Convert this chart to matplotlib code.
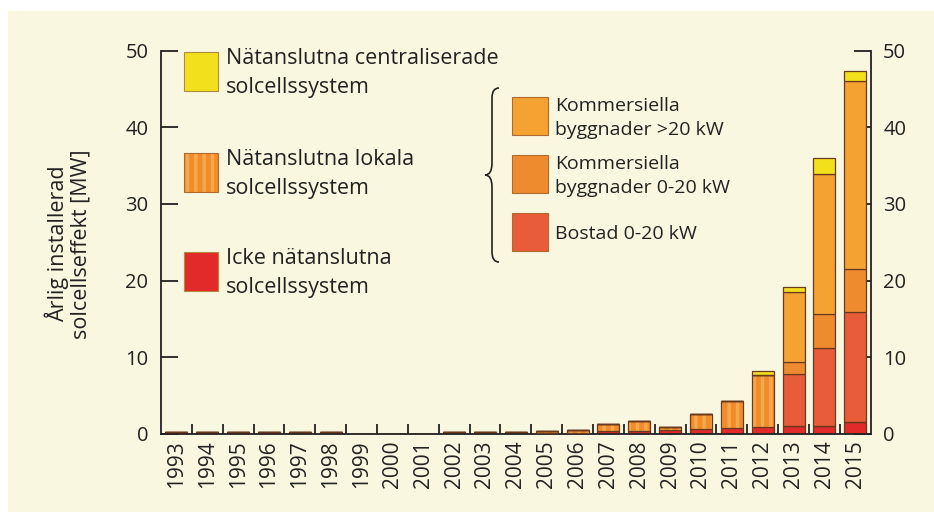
import numpy as np
import matplotlib
matplotlib.use("Agg")
import matplotlib.pyplot as plt
from matplotlib.patches import Rectangle, PathPatch
from matplotlib.path import Path

plt.rcParams['font.family'] = ['Open Sans', 'DejaVu Sans']
plt.rcParams['hatch.linewidth'] = 2.5

years = list(range(1993, 2016))

# annual installed PV power [MW], stacked bottom to top
icke = [0.25, 0.25, 0.25, 0.25, 0.25, 0.25, 0.02, 0.02, 0.02, 0.2, 0.2, 0.2,
        0.15, 0.1, 0.3, 0.3, 0.5, 0.6, 0.75, 0.9, 1.0, 1.0, 1.5]
lokala = [0, 0, 0, 0, 0, 0, 0, 0, 0, 0, 0, 0,
          0.25, 0.4, 1.0, 1.4, 0.4, 2.0, 3.55, 6.7, 0, 0, 0]
bostad = [0] * 20 + [6.8, 10.2, 14.4]
komm_small = [0] * 20 + [1.6, 4.4, 5.6]
komm_large = [0] * 20 + [9.1, 18.3, 24.5]
central = [0] * 19 + [0.6, 0.6, 2.1, 1.3]

cream = '#faf7e1'
edge = '#6b3a1e'
ink = '#222222'
c_yellow = '#f3e01d'
c_red = '#e32a2a'
c_lokala = '#f08c2a'
c_stripe = '#f6a84c'
c_bostad = '#e85c3a'
c_ksmall = '#ef8b2f'
c_klarge = '#f4a231'

W, H = 934, 512
fig = plt.figure(figsize=(W / 100, H / 100), dpi=100, facecolor='white')


def fx(x):
    return x / W


def fy(y):
    return 1 - y / H


fig.patches.append(Rectangle((fx(8), 0), 1, fy(11), transform=fig.transFigure,
                             facecolor=cream, edgecolor='none', zorder=-5))

ax = fig.add_axes([fx(161), fy(433.7), fx(870.7 - 161), (433.7 - 50.7) / H])
ax.set_facecolor('none')
ax.set_zorder(2)

x = np.arange(len(years))
bw = 0.71
bottom = np.zeros(len(years))
for vals, col in [(icke, c_red), (lokala, None), (bostad, c_bostad),
                  (komm_small, c_ksmall), (komm_large, c_klarge), (central, c_yellow)]:
    v = np.array(vals, dtype=float)
    if col is None:
        # striped local grid-connected systems
        ax.bar(x, v, bw, bottom=bottom, color=c_lokala, edgecolor=c_stripe,
               hatch='||', linewidth=0, zorder=2)
        ax.bar(x, v, bw, bottom=bottom, fill=False, edgecolor=edge,
               linewidth=0.9, zorder=3)
    else:
        ax.bar(x, v, bw, bottom=bottom, color=col, edgecolor=edge,
               linewidth=0.9, zorder=2)
    bottom += v

ax.set_xlim(-0.5, len(years) - 0.5)
ax.set_ylim(0, 50)
ax.spines['top'].set_visible(False)
for s in ['left', 'right', 'bottom']:
    ax.spines[s].set_linewidth(1.3)
    ax.spines[s].set_color(ink)

ax.set_yticks([0, 10, 20, 30, 40, 50])
ax.tick_params(axis='y', direction='in', length=12, width=1.3, pad=9,
               left=True, right=True, labelleft=True, labelright=True,
               labelsize=14.5, colors=ink)
ax.set_xticks(x)
ax.set_xticklabels([str(y) for y in years], rotation=90, fontsize=15,
                   color=ink)
ax.tick_params(axis='x', which='major', length=0, pad=5)
ax.set_xticks(np.arange(0.5, len(years) - 1, 1), minor=True)
ax.tick_params(axis='x', which='minor', direction='in', length=7, width=1.3,
               color=ink)

fig.text(fx(68), fy(244), 'Årlig installerad\nsolcellseffekt [MW]', rotation=90,
         ha='center', va='center', fontsize=15.5, color=ink,
         linespacing=1.1)

# legend, left column
left_items = [(c_yellow, 52, 'Nätanslutna centraliserade\nsolcellssystem', False),
              (c_lokala, 153, 'Nätanslutna lokala\nsolcellssystem', True),
              (c_red, 252, 'Icke nätanslutna\nsolcellssystem', False)]
for col, top, label, striped in left_items:
    r = Rectangle((fx(184), fy(top + 39)), fx(34), 39 / H, transform=fig.transFigure,
                  facecolor=col, edgecolor=c_stripe if striped else '#b08a40',
                  hatch='||' if striped else None, linewidth=0 if striped else 0.8)
    fig.patches.append(r)
    if striped:
        fig.patches.append(Rectangle((fx(184), fy(top + 39)), fx(34), 39 / H,
                                     transform=fig.transFigure, fill=False,
                                     edgecolor='#b06a30', linewidth=0.8))
    fig.text(fx(226), fy(top + 21), label, ha='left', va='center', fontsize=15.5,
             color=ink, linespacing=1.55)

# legend, right column (breakdown of local systems)
right_items = [(c_klarge, 97, 'Kommersiella\nbyggnader >20 kW'),
               (c_ksmall, 155, 'Kommersiella\nbyggnader 0-20 kW'),
               (c_bostad, 213, 'Bostad 0-20 kW')]
for col, top, label in right_items:
    fig.patches.append(Rectangle((fx(512), fy(top + 38)), fx(36), 38 / H,
                                 transform=fig.transFigure, facecolor=col,
                                 edgecolor='#b06a30', linewidth=0.8))
    fig.text(fx(555), fy(top + 21), label, ha='left', va='center', fontsize=14,
             color=ink, linespacing=1.45)

# curly brace
bx, top_y, mid_y, bot_y = 499, 88, 175, 262
verts = [(bx, top_y), (bx - 7, top_y), (bx - 7, top_y + 10),
         (bx - 7, mid_y - 12),
         (bx - 7, mid_y), (bx - 14, mid_y),
         (bx - 7, mid_y), (bx - 7, mid_y + 12),
         (bx - 7, bot_y - 10),
         (bx - 7, bot_y), (bx, bot_y)]
codes = [Path.MOVETO, Path.CURVE3, Path.CURVE3, Path.LINETO,
         Path.CURVE3, Path.CURVE3, Path.CURVE3, Path.CURVE3,
         Path.LINETO, Path.CURVE3, Path.CURVE3]
verts = [(fx(a), fy(b)) for a, b in verts]
fig.patches.append(PathPatch(Path(verts, codes), transform=fig.transFigure,
                             fill=False, edgecolor=ink, linewidth=1.2))

fig.savefig('out.png', dpi=100, facecolor='white')
